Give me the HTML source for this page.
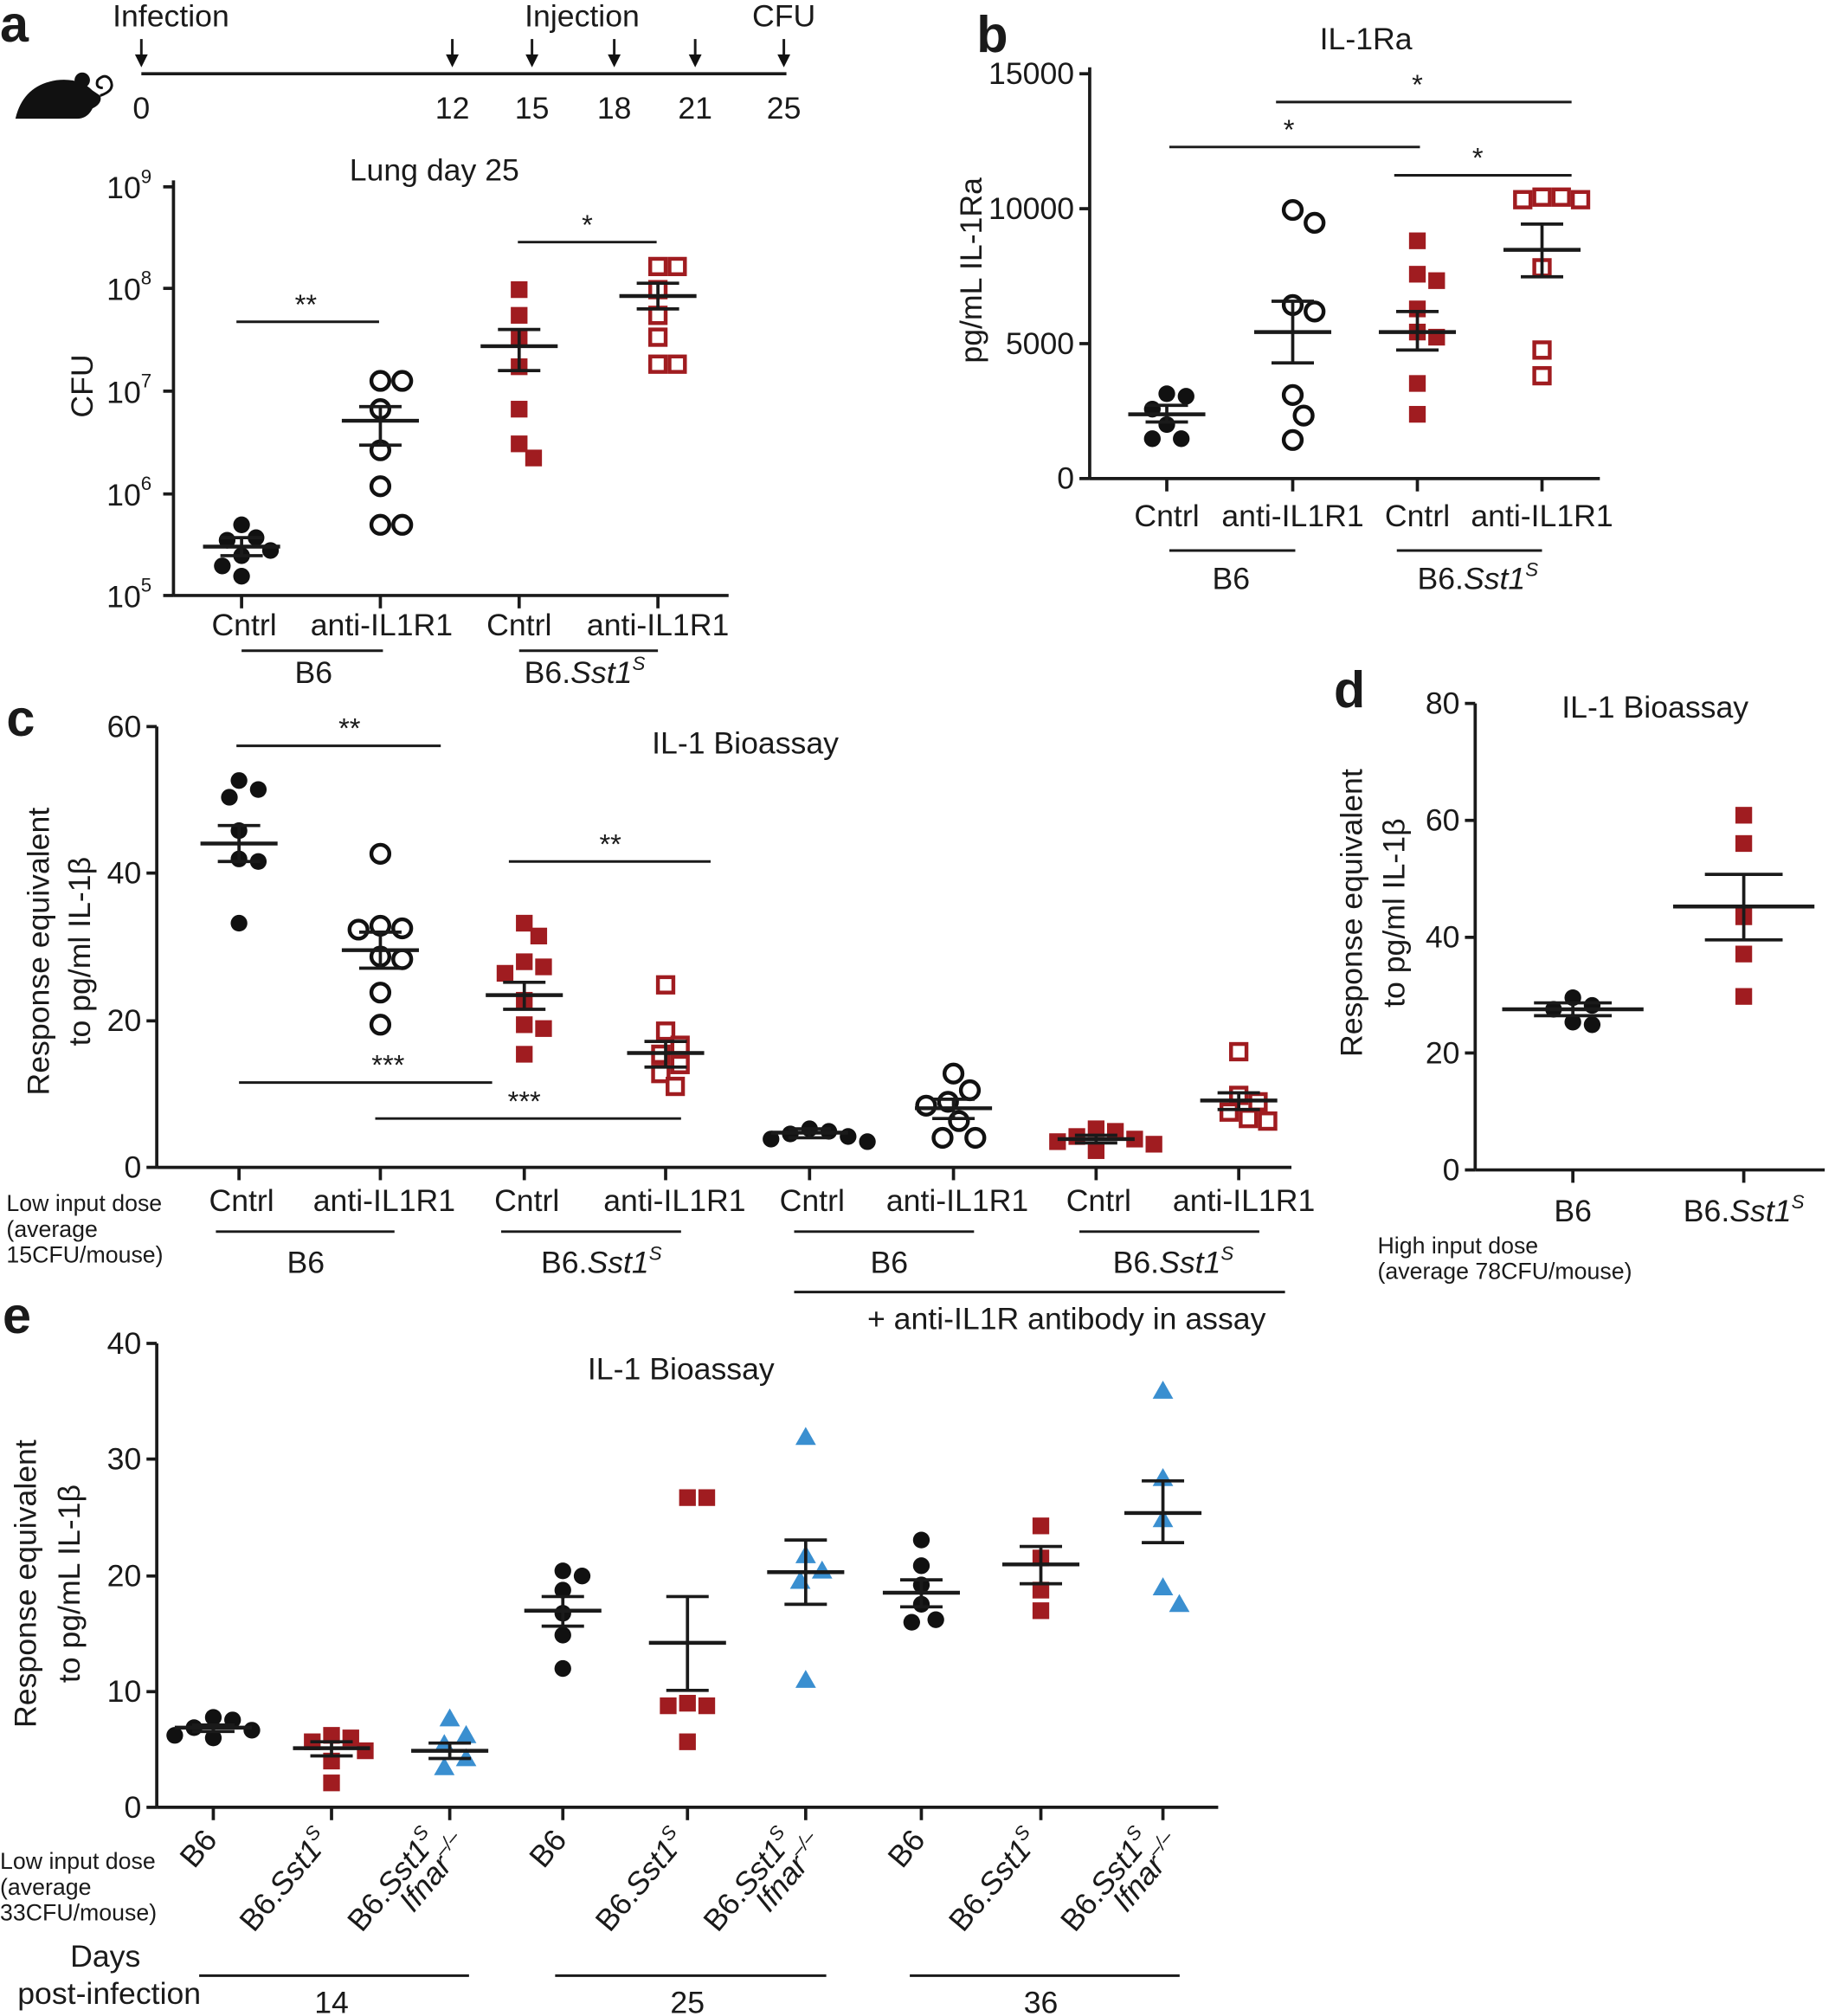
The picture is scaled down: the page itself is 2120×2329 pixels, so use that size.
<!DOCTYPE html>
<html><head><meta charset="utf-8"><style>
html,body{margin:0;padding:0;background:#fff}
svg{display:block}
text{font-family:"Liberation Sans",Arial,sans-serif;fill:#1a1a1a}
</style></head><body>
<svg id="s" width="2120" height="2329" viewBox="0 0 1428 1568" xmlns="http://www.w3.org/2000/svg">
<g id="g"></g>
</svg>
<script>
const NS="http://www.w3.org/2000/svg";
const G=document.getElementById('g');
function el(t,a,txt,p){const e=document.createElementNS(NS,t);for(const k in a)e.setAttribute(k,a[k]);if(txt!=null)e.innerHTML=txt;(p||G).appendChild(e);return e;}
function L(x1,y1,x2,y2,w){el('line',{x1,y1,x2,y2,stroke:'#1a1a1a','stroke-width':w||2});}
function T(x,y,s,size,anchor,extra){const a={x,y,'font-size':size||24,'text-anchor':anchor||'middle'};if(extra)Object.assign(a,extra);return el('text',a,s);}
const RED='#a01c20',BLUE='#3a8fd0',BLK='#111';
function swarm(ys,d){const s=ys.slice().sort((a,b)=>a-b);const placed=[];const out=[];
 s.forEach(y=>{let best=null;for(let k=0;k<40;k++){const cands=k==0?[0]:[k*d/4,-k*d/4];for(const c of cands){if(placed.every(p=>(p[0]-c)**2+(p[1]-y)**2>=d*d)){best=c;break;}}if(best!==null)break;}
 placed.push([best,y]);out.push([best,y]);});return out;}
function pts(x,ys,type,d){d=d||15;swarm(ys,d).forEach(([dx,y])=>{const xx=x+dx;
 if(type=='fc')el('circle',{cx:xx,cy:y,r:6.5,fill:BLK});
 else if(type=='oc')el('circle',{cx:xx,cy:y,r:7,fill:'#fff',stroke:BLK,'stroke-width':3});
 else if(type=='fs')el('rect',{x:xx-6.5,y:y-6.5,width:13,height:13,fill:RED});
 else if(type=='os')el('rect',{x:xx-6,y:y-6,width:12,height:12,fill:'#fff',stroke:RED,'stroke-width':3});
 else if(type=='tr')el('polygon',{points:`${xx},${y-8} ${xx+8},${y+6} ${xx-8},${y+6}`,fill:BLUE});});}
function mean(x,m,a,b,w){w=w||30;L(x-w,m,x+w,m,3);L(x,a,x,b,2.5);L(x-w*0.55,a,x+w*0.55,a,2.5);L(x-w*0.55,b,x+w*0.55,b,2.5);}
function sig(x1,x2,y,s,tx){L(x1,y,x2,y,2);T(tx||(x1+x2)/2,y-6,s,22);}
function yax(x,y0,y1,xend,ticks){L(x,y0,x,y1,2.5);L(x,y1,xend,y1,2.5);ticks.forEach(t=>{L(x-8,t[0],x,t[0],2.5);T(x-12,t[0]+8,t[1],24,'end');});}
function xt(x,y){L(x,y,x,y+10,2.5);}
const sst='B6.<tspan font-style="italic">Sst1</tspan><tspan font-style="italic" font-size="15" dy="-10">S</tspan>';

[['a',0,32],['b',760,40],['c',5,572],['d',1038,550],['e',2,1037]].forEach(p=>T(p[1],p[2],p[0],40,'start',{'font-weight':'bold'}));

// timeline
L(110,57,612,57,2.5);
[110,352,414,478,541,610].forEach(x=>{L(x,30,x,48,2);el('polygon',{points:`${x-5},42 ${x+5},42 ${x},52`,fill:'#111'});});
T(133,20,'Infection',24);T(453,20,'Injection',24);T(610,20,'CFU',24);
[[110,'0'],[352,'12'],[414,'15'],[478,'18'],[541,'21'],[610,'25']].forEach(a=>T(a[0],92,a[1],24));
el('path',{d:'M12,92 Q18,66 44,62 Q62,60 72,70 L78,74 Q80,80 72,84 Q68,92 60,92 Z',fill:'#111'});
el('circle',{cx:64,cy:62,r:6,fill:'#111'});
el('path',{d:'M78,74 Q90,70 86,62 Q82,56 76,62 Q74,68 80,68',fill:'none',stroke:'#111','stroke-width':2});

// Panel a
yax(135,140,463,567,[]);
[[145,'9'],[224,'8'],[304,'7'],[384,'6'],[463,'5']].forEach(t=>{L(127,t[0],135,t[0],2.5);el('text',{x:118,y:t[0]+9,'font-size':24,'text-anchor':'end'},`10<tspan font-size="15" dy="-12">${t[1]}</tspan>`);});
[188,296,404,512].forEach(x=>xt(x,463));
T(338,140,'Lung day 25',24);
T(72,300,'CFU',24,'middle',{transform:'rotate(-90 72 300)'});
pts(188,[408,418,420,428,432,440,448],'fc');mean(188,425,418,432);
pts(296,[296,296,318,350,378,408,408],'oc',17);mean(296,327,316,346);
pts(404,[225,245,262,285,318,345,356],'fs');mean(404,269,256,288);
pts(512,[207,207,225,245,262,283,283],'os');mean(512,230,220,240);
sig(184,295,250,'**',238);sig(403,511,188,'*',457);
[[190,'Cntrl'],[297,'anti-IL1R1'],[404,'Cntrl'],[512,'anti-IL1R1']].forEach(a=>T(a[0],494,a[1],24));
L(188,506,298,506);L(404,506,512,506);
T(244,531,'B6',24);el('text',{x:455,y:531,'font-size':24,'text-anchor':'middle'},sst);

// Panel b
yax(848,52,372,1245,[[57,'15000'],[162,'10000'],[267,'5000'],[372,'0']]);
[908,1006,1103,1200].forEach(x=>xt(x,372));
T(1063,38,'IL-1Ra',24);
T(764,210,'pg/mL IL-1Ra',24,'middle',{transform:'rotate(-90 764 210)'});
pts(908,[306,341,318,308,341,330],'fc');mean(908,322,315,328);
pts(1006,[342,163,237,307,173,242,323],'oc',17);mean(1006,258,234,282);
pts(1103,[322,213,187,262,298,240,218,258],'fs');mean(1103,258,242,272);
pts(1200,[292,155,153,208,153,272,155],'os');mean(1200,194,174,215);
sig(993,1223,79,'*',1103);sig(910,1105,114,'*',1003);sig(1085,1223,136,'*',1150);
[[908,'Cntrl'],[1006,'anti-IL1R1'],[1103,'Cntrl'],[1200,'anti-IL1R1']].forEach(a=>T(a[0],409,a[1],24));
L(910,428,1008,428);L(1087,428,1200,428);
T(958,458,'B6',24);el('text',{x:1150,y:458,'font-size':24,'text-anchor':'middle'},sst);

// Panel c
yax(122,565,908,1005,[[565,'60'],[679,'40'],[794,'20'],[908,'0']]);
[186,296,408,518,630,742,853,964].forEach(x=>xt(x,908));
T(580,586,'IL-1 Bioassay',24);
T(38,740,'Response equivalent',24,'middle',{transform:'rotate(-90 38 740)'});
T(70,740,'to pg/ml IL-1β',24,'middle',{transform:'rotate(-90 70 740)'});
pts(186,[668,607,620,646,614,670,718],'fc');mean(186,656,642,670);
pts(296,[744,664,720,797,722,746,772,723],'oc',17);mean(296,739,725,753);
pts(408,[748,718,778,820,728,797,757,752,800],'fs');mean(408,774,764,785);
pts(518,[828,802,845,766,813,835,820],'os');mean(518,819,810,830);
pts(630,[880,888,884,882,886,878],'fc');mean(630,881,878,885);
pts(742,[857,835,872,885,848,885,860],'oc',17);mean(742,862,855,870);
pts(853,[890,884,895,886,880,888,878],'fs');mean(853,886,883,889);
pts(964,[865,870,818,872,852,857],'os');mean(964,856,850,863);
sig(184,343,580,'**',272);sig(396,553,670,'**',475);sig(186,383,842,'***',302);sig(292,530,870,'***',408);
[[188,'Cntrl'],[299,'anti-IL1R1'],[410,'Cntrl'],[525,'anti-IL1R1'],[632,'Cntrl'],[745,'anti-IL1R1'],[855,'Cntrl'],[968,'anti-IL1R1']].forEach(a=>T(a[0],942,a[1],24));
T(5,942,'Low input dose',18,'start');T(5,962,'(average',18,'start');T(5,982,'15CFU/mouse)',18,'start');
L(168,958,307,958);L(390,958,530,958);L(618,958,758,958);L(840,958,980,958);
T(238,990,'B6',24);T(692,990,'B6',24);
[468,913].forEach(x=>el('text',{x,y:990,'font-size':24,'text-anchor':'middle'},sst));
L(618,1005,1000,1005);T(830,1034,'+ anti-IL1R antibody in assay',24);

// Panel d
yax(1148,547,910,1420,[[547,'80'],[638,'60'],[729,'40'],[819,'20'],[910,'0']]);
[1224,1357].forEach(x=>xt(x,910));
T(1288,558,'IL-1 Bioassay',24);
T(1060,710,'Response equivalent',24,'middle',{transform:'rotate(-90 1060 710)'});
T(1093,710,'to pg/ml IL-1β',24,'middle',{transform:'rotate(-90 1093 710)'});
pts(1224,[785,797,776,795,782],'fc');mean(1224,785,780,790,55);
pts(1357,[775,634,742,656,713],'fs');mean(1357,705,680,731,55);
T(1224,950,'B6',24);el('text',{x:1357,y:950,'font-size':24,'text-anchor':'middle'},sst);
T(1072,975,'High input dose',18,'start');T(1072,995,'(average 78CFU/mouse)',18,'start');

// Panel e
yax(122,1045,1406,948,[[1045,'40'],[1135,'30'],[1226,'20'],[1316,'10'],[1406,'0']]);
const ex=[166,258,350,438,535,627,717,810,905];ex.forEach(x=>xt(x,1406));
T(530,1073,'IL-1 Bioassay',24);
T(28,1232,'Response equivalent',24,'middle',{transform:'rotate(-90 28 1232)'});
T(62,1232,'to pg/mL IL-1β',24,'middle',{transform:'rotate(-90 62 1232)'});
pts(166,[1346,1338,1350,1344,1352,1336],'fc');mean(166,1344,1342,1347);
pts(258,[1362,1350,1387,1355,1352,1370],'fs');mean(258,1360,1355,1366);
pts(350,[1357,1337,1375,1350,1368],'tr',17);mean(350,1362,1356,1368);
pts(438,[1222,1298,1237,1255,1226,1272],'fc');mean(438,1253,1242,1265);
pts(535,[1327,1165,1355,1165,1327,1325],'fs');mean(535,1278,1242,1315);
pts(627,[1230,1307,1118,1210,1222],'tr',17);mean(627,1223,1198,1248);
pts(717,[1233,1262,1198,1248,1260,1218],'fc');mean(717,1239,1229,1250);
pts(810,[1212,1253,1187,1237],'fs');mean(810,1217,1203,1232);
pts(905,[1248,1235,1082,1150,1182],'tr',17);mean(905,1177,1152,1200);
function rl(x,l1,l2){const tx=x+6,ty=1432;el('text',{x:tx,y:ty,'font-size':24,'text-anchor':'end',transform:`rotate(-50 ${tx} ${ty})`},l1);
 if(l2){el('text',{x:tx+24,y:ty+4,'font-size':24,'text-anchor':'end','font-style':'italic',transform:`rotate(-50 ${tx+24} ${ty+4})`},l2);}}
[0,1,2].forEach(i=>{rl(ex[i*3]-2,'B6');rl(ex[i*3+1]-6,sst);rl(ex[i*3+2]-14,sst,'Ifnar<tspan font-size="15" dy="-10">–/–</tspan>');});
T(0,1454,'Low input dose',18,'start');T(0,1474,'(average',18,'start');T(0,1494,'33CFU/mouse)',18,'start');
T(82,1530,'Days',24);T(85,1559,'post-infection',24);
L(155,1537,365,1537);L(432,1537,643,1537);L(708,1537,918,1537);
T(258,1566,'14',24);T(535,1566,'25',24);T(810,1566,'36',24);
</script>
</body></html>
